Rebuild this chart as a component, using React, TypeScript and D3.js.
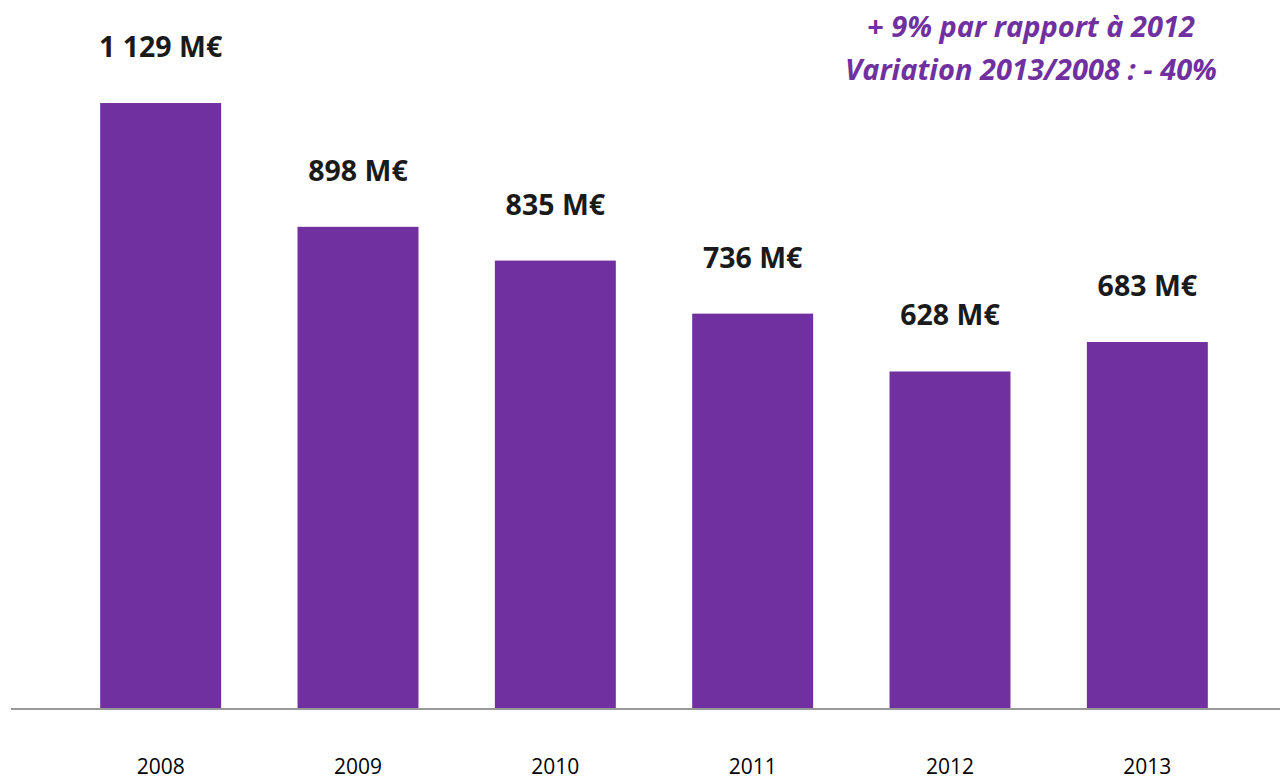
import React from "react";
import * as d3 from "d3";

const years = ["2008", "2009", "2010", "2011", "2012", "2013"];
const values = [1129, 898, 835, 736, 628, 683];
const valueLabels = ["1 129 M€", "898 M€", "835 M€", "736 M€", "628 M€", "683 M€"];
const notes = ["+ 9% par rapport à 2012", "Variation 2013/2008 : - 40%"];

const W = 1280;
const H = 778;
const PURPLE = "#7030A0";

export default function App() {
  const x = d3.scaleBand<string>().domain(years).range([62, 1246]).paddingInner(0.387).paddingOuter(0.1935);
  const y = d3.scaleLinear().domain([0, 1200]).range([708, 65]);
  const font = "'Open Sans', 'Noto Sans', sans-serif";
  return (
    <svg width={W} height={H} style={{ position: "absolute", left: 0, top: 0, background: "#fff" }}>
      {years.map((yr, i) => (
        <rect key={yr} x={x(yr)} y={y(values[i])} width={x.bandwidth()} height={y(0) - y(values[i])} fill={PURPLE} />
      ))}
      <line x1={11} x2={W} y1={y(0) + 1} y2={y(0) + 1} stroke="#999" strokeWidth={2} />
      {years.map((yr, i) => (
        <text key={"v" + yr} x={(x(yr) as number) + x.bandwidth() / 2} y={y(values[i]) - 46} textAnchor="middle"
          fontFamily={font} fontWeight="bold" fontSize={28.5} fill="#1a1a1a">{valueLabels[i]}</text>
      ))}
      {years.map((yr) => (
        <text key={"l" + yr} x={(x(yr) as number) + x.bandwidth() / 2} y={774} textAnchor="middle"
          fontFamily={font} fontSize={21} fill="#000">{yr}</text>
      ))}
      {notes.map((n, i) => (
        <text key={n} x={1031} y={37 + i * 43} textAnchor="middle" fontFamily={font} fontWeight="bold"
          fontStyle="italic" fontSize={29} fill={PURPLE}>{n}</text>
      ))}
    </svg>
  );
}
